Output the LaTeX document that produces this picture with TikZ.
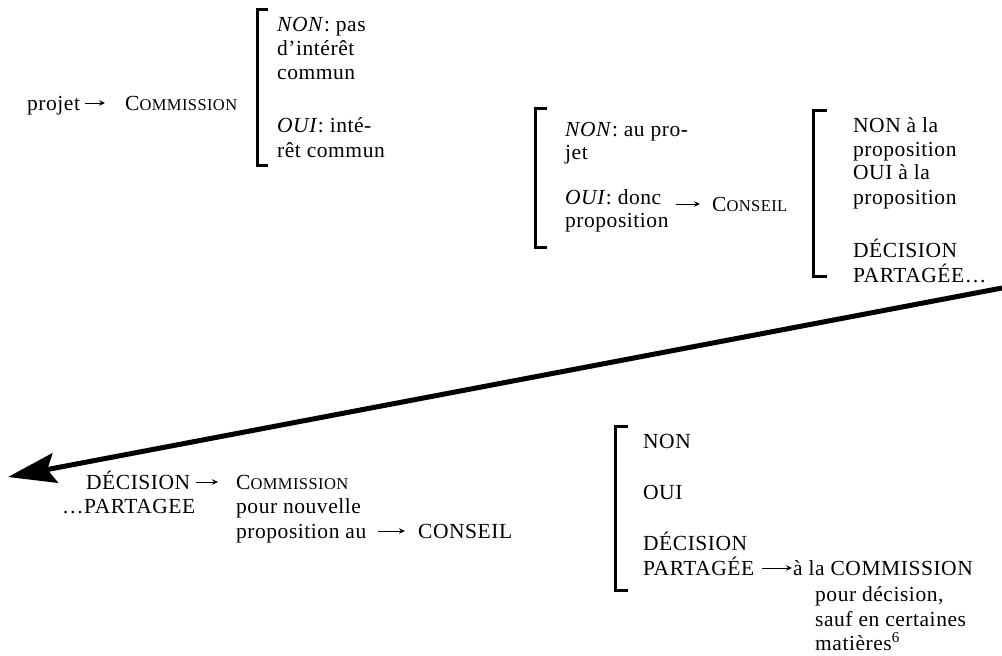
\documentclass[tikz,border=0pt]{standalone}
\usepackage{fontspec}
\setmainfont[LetterSpace=2.5]{Liberation Serif}
\usetikzlibrary{arrows.meta}
\newcommand\fakesc[2]{#1{\fontsize{16.5}{18}\selectfont #2}}
\begin{document}
\begin{tikzpicture}[x=1pt,y=-1pt,
  txt/.style={anchor=base west, inner sep=0pt, text height=14pt, text depth=0pt, font=\fontsize{21.5}{24}\selectfont},
  sarrow/.style={-{Stealth[length=6pt,width=5.5pt]}, line width=1pt},
  brk/.style={line width=3pt, line cap=butt, line join=miter},
  bigarrow/.style={-{Stealth[length=48pt,width=30pt,inset=8pt]}, line width=5pt}]
\useasboundingbox (0,0) rectangle (1002,656);

% --- top left: projet -> Commission
\node[txt] (projet) at (27,110) {projet};
\node[txt] (comm1) at (125,110) {\fakesc{C}{OMMISSION}};
\draw[sarrow, shorten <=5pt, shorten >=20pt] (projet.east) -- (comm1.west);

% bracket 1
\draw[brk] (268,9) -- (257,9) -- (257,165) -- (268,165);
\node[txt] (a1) at (277,31) {\textit{NON}: pas};
\node[txt] (a2) at (277,55) {d’intérêt};
\node[txt] (a3) at (277,79) {commun};
\node[txt] (a4) at (277,132) {\textit{OUI}: inté-};
\node[txt] (a5) at (277,157) {rêt commun};

% bracket 2
\draw[brk] (547,108) -- (535,108) -- (535,247) -- (547,247);
\node[txt] (b1) at (565,136) {\textit{NON}: au pro-};
\node[txt] (b2) at (565,159) {jet};
\node[txt] (b3) at (565,204) {\textit{OUI}: donc};
\node[txt] (b4) at (565,227) {proposition};
\node[txt] (conseil1) at (712,211) {\fakesc{C}{ONSEIL}};
\draw[sarrow, shorten <=7pt, shorten >=12pt] (b4.east |- conseil1.west) -- (conseil1.west);

% bracket 3
\draw[brk] (827,110) -- (813,110) -- (813,276) -- (827,276);
\node[txt] (c1) at (853,132) {NON à la};
\node[txt] (c2) at (853,156) {proposition};
\node[txt] (c3) at (853,179) {OUI à la};
\node[txt] (c4) at (853,204) {proposition};
\node[txt] (c5) at (853,257) {DÉCISION};
\node[txt] (c6) at (853,282) {PARTAGÉE…};

% big return arrow
\coordinate (bigstart) at (1002,288);
\coordinate (bigend) at (8,477);
\draw[bigarrow] (bigstart) -- (bigend);

% bottom left
\node[txt] (d1) at (86,489) {DÉCISION};
\node[txt] (d2) at (62,513) {…PARTAGEE};
\node[txt] (comm2) at (236,489) {\fakesc{C}{OMMISSION}};
\draw[sarrow, shorten <=6pt, shorten >=18pt] (d1.east) -- (comm2.west);
\node[txt] (d3) at (236,513) {pour nouvelle};
\node[txt] (d4) at (236,538) {proposition au};
\node[txt] (conseil2) at (418,538) {CONSEIL};
\draw[sarrow, shorten <=12pt, shorten >=13pt] (d4.east) -- (conseil2.west);

% bracket 4
\draw[brk] (628,426) -- (615,426) -- (615,590) -- (628,590);
\node[txt] (e1) at (643,448) {NON};
\node[txt] (e2) at (643,499) {OUI};
\node[txt] (e3) at (643,550) {DÉCISION};
\node[txt] (e4) at (643,575) {PARTAGÉE};
\node[txt] (f1) at (793,575) {à la COMMISSION};
\draw[sarrow, shorten <=8pt, shorten >=1pt] (e4.east) -- (f1.west);
\node[txt] (f2) at (815,601) {pour décision,};
\node[txt] (f3) at (815,626) {sauf en certaines};
\node[txt] (f4) at (815,650) {matières\textsuperscript{6}};
\end{tikzpicture}
\end{document}
